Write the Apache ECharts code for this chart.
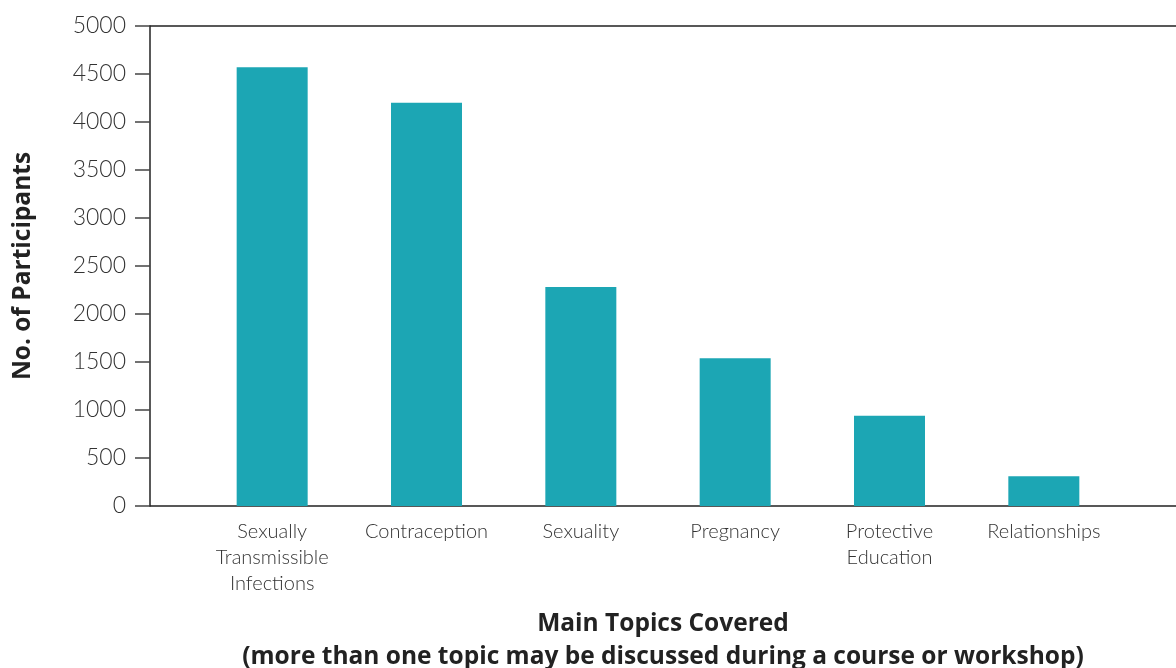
<!DOCTYPE html>
<html>
<head>
<meta charset="utf-8">
<script src="https://cdn.jsdelivr.net/npm/echarts@6/dist/echarts.min.js"></script>
<style>html,body{margin:0;padding:0;background:#fff}#c{width:1176px;height:668px}</style>
</head>
<body>
<div id="c"></div>
<script>
const categories = ['Sexually\nTransmissible\nInfections', 'Contraception', 'Sexuality', 'Pregnancy', 'Protective\nEducation', 'Relationships'];
const participants = [4570, 4200, 2280, 1540, 940, 310];
const yMin = 0, yMax = 5000, yStep = 500;
const xTitle = 'Main Topics Covered\n(more than one topic may be discussed during a course or workshop)';
const yTitle = 'No. of Participants';

const txt = '#333333';
const lineCol = '#222222';
const chart = echarts.init(document.getElementById('c'));
chart.setOption({
  backgroundColor: '#fff',
  animation: false,
  grid: [
    {left: 150, right: 0, top: 26, bottom: 162, containLabel: false, outerBoundsMode: 'none'},
    {left: 195, width: 926, top: 26, bottom: 162, containLabel: false, outerBoundsMode: 'none'}
  ],
  xAxis: [
    {gridIndex: 0, type: 'category', data: [''], position: 'bottom',
     axisLine: {show: true, lineStyle: {color: lineCol, width: 1.5}},
     axisTick: {show: false}, axisLabel: {show: false}, splitLine: {show: false},
     name: xTitle, nameLocation: 'middle', nameGap: 102,
     nameTextStyle: {fontFamily: 'Open Sans', fontWeight: 'bold', fontSize: 24.5, color: '#222', lineHeight: 33}},
    {gridIndex: 0, type: 'category', data: [''], position: 'top',
     axisLine: {show: true, lineStyle: {color: lineCol, width: 1.5}},
     axisTick: {show: false}, axisLabel: {show: false}, splitLine: {show: false}},
    {gridIndex: 1, type: 'category', data: categories,
     axisLine: {show: false}, axisTick: {show: false},
     axisLabel: {margin: 13, fontFamily: 'Lato', fontWeight: 300, fontSize: 20, color: txt, lineHeight: 26, interval: 0}}
  ],
  yAxis: [
    {gridIndex: 0, type: 'value', min: yMin, max: yMax, interval: yStep,
     axisLine: {show: true, lineStyle: {color: lineCol, width: 1.5}},
     axisTick: {show: true, inside: false, length: 15, lineStyle: {color: '#444', width: 1.5}},
     axisLabel: {margin: 24, fontFamily: 'Lato', fontWeight: 300, fontSize: 23, color: txt,
                 formatter: function (v) { return String(v); }},
     splitLine: {show: false},
     name: yTitle, nameLocation: 'middle', nameRotate: 90, nameGap: 114,
     nameTextStyle: {fontFamily: 'Open Sans', fontWeight: 'bold', fontSize: 24.5, color: '#222'}},
    {gridIndex: 1, type: 'value', min: yMin, max: yMax, interval: yStep, show: false}
  ],
  series: [{
    type: 'bar', xAxisIndex: 2, yAxisIndex: 1, data: participants,
    barWidth: 71, itemStyle: {color: '#1ca6b4'}
  }]
});
</script>
</body>
</html>
